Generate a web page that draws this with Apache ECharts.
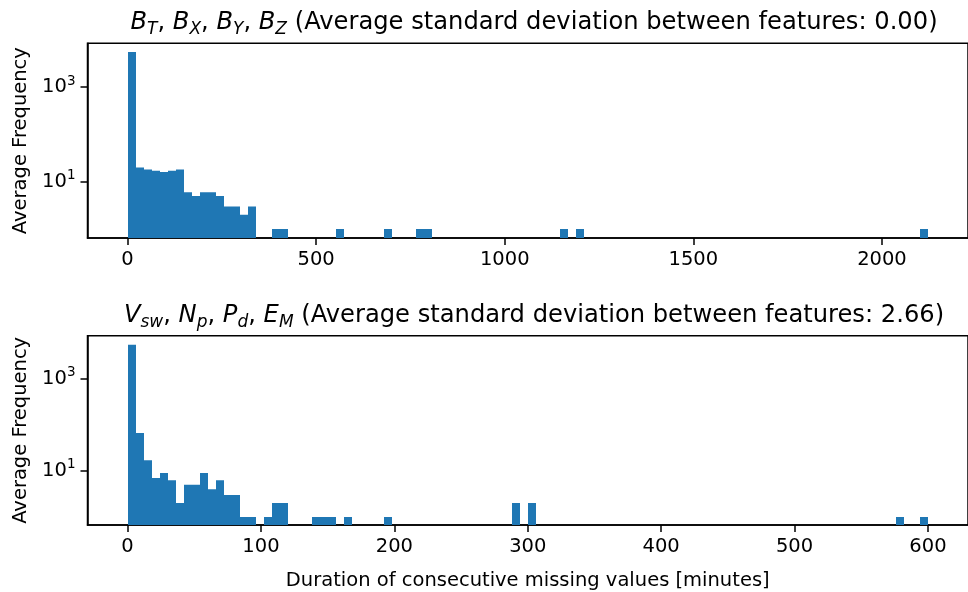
<!DOCTYPE html>
<html>
<head>
<meta charset="utf-8">
<script src="https://cdn.jsdelivr.net/npm/echarts@6/dist/echarts.min.js"></script>
<style>
html,body{margin:0;padding:0;background:#fff;}
#chart{width:968px;height:592px;}
</style>
</head>
<body>
<div id="chart"></div>
<script>
// ---- Data (histograms, 100 bins each) ----
// Top panel: B_T, B_X, B_Y, B_Z  range 0..2122 minutes
const topBinStart = 0;
const topBinWidth = 21.22;
const topCounts = [
  5480, 20, 18, 17, 16, 17, 18, 6, 5, 6,
  6, 5, 3, 3, 2, 3, 0, 0, 1, 1,
  0, 0, 0, 0, 0, 0, 1, 0, 0, 0,
  0, 0, 1, 0, 0, 0, 1, 1, 0, 0,
  0, 0, 0, 0, 0, 0, 0, 0, 0, 0,
  0, 0, 0, 0, 1, 0, 1, 0, 0, 0,
  0, 0, 0, 0, 0, 0, 0, 0, 0, 0,
  0, 0, 0, 0, 0, 0, 0, 0, 0, 0,
  0, 0, 0, 0, 0, 0, 0, 0, 0, 0,
  0, 0, 0, 0, 0, 0, 0, 0, 0, 1
];
// Bottom panel: V_sw, N_p, P_d, E_M  range 0..600 minutes
const botBinStart = 0;
const botBinWidth = 6;
const botCounts = [
  5450, 66, 17, 7, 9, 6.25, 2, 5, 5, 9,
  4, 6.25, 3, 3, 1, 1, 0, 1, 2, 2,
  0, 0, 0, 1, 1, 1, 0, 1, 0, 0,
  0, 0, 1, 0, 0, 0, 0, 0, 0, 0,
  0, 0, 0, 0, 0, 0, 0, 0, 2, 0,
  2, 0, 0, 0, 0, 0, 0, 0, 0, 0,
  0, 0, 0, 0, 0, 0, 0, 0, 0, 0,
  0, 0, 0, 0, 0, 0, 0, 0, 0, 0,
  0, 0, 0, 0, 0, 0, 0, 0, 0, 0,
  0, 0, 0, 0, 0, 0, 1, 0, 0, 1
];
const topXTicks = [0, 500, 1000, 1500, 2000];
const botXTicks = [0, 100, 200, 300, 400, 500, 600];
const yTicks = [10, 1000];
const topTitle = '{i|B}{s|T}, {i|B}{s|X}, {i|B}{s|Y}, {i|B}{s|Z} (Average standard deviation between features: 0.00)';
const botTitle = '{i|V}{s|sw}, {i|N}{s|p}, {i|P}{s|d}, {i|E}{s|M} (Average standard deviation between features: 2.66)';
const yName = 'Average Frequency';
const xName = 'Duration of consecutive missing values [minutes]';

// ---- Build ----
function toBins(start, width, counts) {
  const out = [];
  counts.forEach((c, i) => {
    if (c > 0) out.push([start + i * width, start + (i + 1) * width, c]);
  });
  return out;
}
const FONT = 'DejaVu Sans';
const BLUE = '#1f77b4';
const TFS = 24.2;
const titleRich = {
  i: {fontFamily: FONT, fontStyle: 'italic', fontSize: TFS, color: '#000', lineHeight: 30},
  s: {fontFamily: FONT, fontStyle: 'italic', fontSize: 17, color: '#000', lineHeight: 18, verticalAlign: 'bottom'}
};
const labelRich = {
  b: {fontFamily: FONT, fontSize: 19.5, color: '#000', lineHeight: 26},
  e: {fontFamily: FONT, fontSize: 13.5, color: '#000', lineHeight: 14, verticalAlign: 'top'}
};
function renderBar(params, api) {
  const a = api.coord([api.value(0), api.value(2)]);
  const b = api.coord([api.value(1), api.value(2)]);
  const cs = params.coordSys;
  const bottom = cs.y + cs.height;
  const x0 = Math.round(a[0]);
  const x1 = Math.round(b[0]);
  return {
    type: 'rect',
    shape: {x: x0, y: a[1], width: x1 - x0, height: bottom - a[1]},
    style: {fill: BLUE, stroke: null, lineWidth: 0}
  };
}
function xAxisCfg(idx, min, max, ticks, name) {
  return {
    type: 'value', gridIndex: idx, min: min, max: max,
    splitLine: {show: false},
    axisLine: {show: true, onZero: false, lineStyle: {color: '#000', width: 1.5}},
    axisTick: {show: true, length: 7, lineStyle: {color: '#000', width: 1.5}, customValues: ticks},
    axisLabel: {show: true, margin: 12, fontFamily: FONT, fontSize: 19.5, color: '#000', customValues: ticks,
      formatter: v => String(v)},
    name: name || '', nameLocation: 'middle', nameGap: 46,
    nameTextStyle: {fontFamily: FONT, fontSize: 19.5, color: '#000'}
  };
}
function yAxisCfg(idx, min, max) {
  return {
    type: 'log', logBase: 10, gridIndex: idx, min: min, max: max,
    splitLine: {show: false},
    axisLine: {show: true, onZero: false, lineStyle: {color: '#000', width: 1.5}},
    axisTick: {show: true, length: 7, lineStyle: {color: '#000', width: 1.5}, customValues: yTicks},
    axisLabel: {
      show: true, margin: 12, customValues: yTicks,
      formatter: v => '{b|10}{e|' + Math.round(Math.log10(v)) + '}',
      rich: labelRich
    },
    name: yName, nameLocation: 'middle', nameGap: 57,
    nameTextStyle: {fontFamily: FONT, fontSize: 19.5, color: '#000'}
  };
}
const option = {
  animation: false,
  backgroundColor: '#fff',
  title: [
    {text: topTitle, left: 529, top: 3, textAlign: 'center', textStyle: {rich: titleRich, fontFamily: FONT, fontSize: TFS, fontWeight: 'normal', color: '#000'}},
    {text: botTitle, left: 529, top: 296, textAlign: 'center', textStyle: {rich: titleRich, fontFamily: FONT, fontSize: TFS, fontWeight: 'normal', color: '#000'}}
  ],
  grid: [
    {left: 87.5, top: 43.3, right: -11.5, height: 194.7, show: true, borderColor: '#000', borderWidth: 1.5, backgroundColor: 'transparent'},
    {left: 87.5, top: 335.7, right: -11.5, height: 195, show: true, borderColor: '#000', borderWidth: 1.5, backgroundColor: 'transparent'}
  ],
  xAxis: [
    xAxisCfg(0, -106.1, 2228.1, topXTicks, ''),
    xAxisCfg(1, -30, 630, botXTicks, xName)
  ],
  yAxis: [
    yAxisCfg(0, 0.647, 8380),
    yAxisCfg(1, 0.67, 8570)
  ],
  series: [
    {type: 'custom', xAxisIndex: 0, yAxisIndex: 0, renderItem: renderBar, data: toBins(topBinStart, topBinWidth, topCounts), encode: {x: [0, 1], y: 2}, clip: true},
    {type: 'custom', xAxisIndex: 1, yAxisIndex: 1, renderItem: renderBar, data: toBins(botBinStart, botBinWidth, botCounts), encode: {x: [0, 1], y: 2}, clip: true}
  ]
};
const chart = echarts.init(document.getElementById('chart'), null, {renderer: 'canvas'});
chart.setOption(option);
</script>
</body>
</html>
